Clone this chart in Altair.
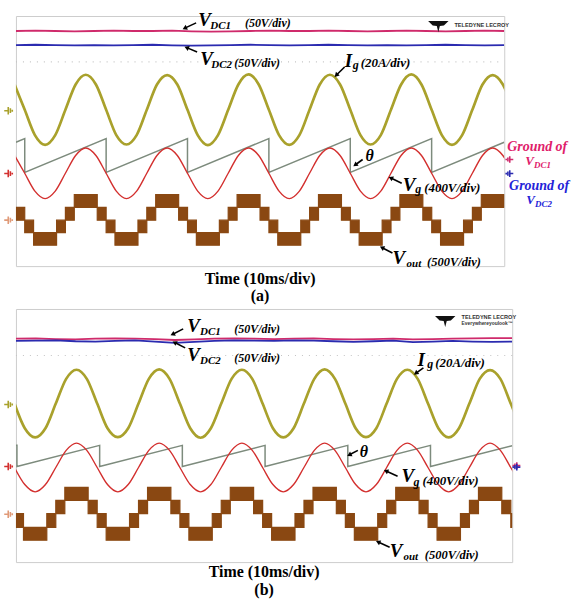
import math
import altair as alt
import pandas as pd

# Oscilloscope captures: horizontal 10 ms/div (10 divisions), vertical 8 divisions.
T_DOMAIN = [0, 100]
V_DOMAIN = [-4, 4]
GRID_T = list(range(0, 101, 10))
GRID_V = list(range(-4, 5))

SERIF = "Liberation Serif"
SANS = "Liberation Sans"
C_VDC1 = "#cf2a6b"
C_VDC2 = "#2b2bb0"
C_IG = "#a9a12c"
C_VG = "#d3302f"
C_THETA = "#7d8b7d"
C_VOUT = "#8a4812"
C_VOUT_GND = "#e09a78"
C_GRID = "#d9d9d9"
C_TXT_GND1 = "#e0206a"
C_TXT_GND2 = "#2323d8"

# ---------------------------------------------------------------- panel (a)
a_vdc_t = [0, 4, 8, 12, 16, 20, 24, 28, 32, 36, 40, 44, 48, 52, 56, 60, 64, 68,
           72, 76, 80, 84, 88, 92, 96, 100]
a_vdc1 = [3.52, 3.53, 3.52, 3.51, 3.52, 3.53, 3.52, 3.52, 3.53, 3.51, 3.50, 3.51,
          3.52, 3.53, 3.52, 3.52, 3.53, 3.52, 3.51, 3.52, 3.53, 3.52, 3.51, 3.52,
          3.53, 3.52]
a_vdc2 = [3.07, 3.08, 3.07, 3.06, 3.07, 3.06, 3.07, 3.08, 3.06, 3.05, 3.06, 3.07,
          3.08, 3.07, 3.06, 3.07, 3.08, 3.07, 3.06, 3.07, 3.06, 3.07, 3.08, 3.07,
          3.06, 3.07]

a_sine_t = [-0.28, 1.80, 3.88, 5.97, 8.05, 10.13, 12.22, 14.30,
            16.38, 18.47, 20.55, 22.63, 24.72, 26.80, 28.88, 30.97,
            33.05, 35.13, 37.22, 39.30, 41.38, 43.47, 45.55, 47.63,
            49.72, 51.80, 53.88, 55.97, 58.05, 60.13, 62.22, 64.30,
            66.38, 68.47, 70.55, 72.63, 74.72, 76.80, 78.88, 80.97,
            83.05, 85.13, 87.22, 89.30, 91.38, 93.47, 95.55, 97.63,
            99.72, 101.80]
a_ig = [1.81, 1.00, 0.19, -0.12, 0.19, 1.00, 1.81, 2.12,
        1.81, 1.00, 0.19, -0.11, 0.19, 1.00, 1.81, 2.11,
        1.81, 1.00, 0.19, -0.13, 0.19, 1.00, 1.81, 2.13,
        1.81, 1.00, 0.19, -0.12, 0.19, 1.00, 1.81, 2.12,
        1.81, 1.00, 0.19, -0.11, 0.19, 1.00, 1.81, 2.13,
        1.81, 1.00, 0.19, -0.12, 0.19, 1.00, 1.81, 2.11,
        1.81, 1.00]
a_vg = [-0.46, -1.03, -1.60, -1.84, -1.60, -1.03, -0.46, -0.22,
        -0.46, -1.03, -1.60, -1.84, -1.60, -1.03, -0.46, -0.22,
        -0.46, -1.03, -1.60, -1.84, -1.60, -1.03, -0.46, -0.22,
        -0.46, -1.03, -1.60, -1.84, -1.60, -1.03, -0.46, -0.22,
        -0.46, -1.03, -1.60, -1.84, -1.60, -1.03, -0.46, -0.22,
        -0.46, -1.03, -1.60, -1.84, -1.60, -1.03, -0.46, -0.22,
        -0.46, -1.03]
a_theta_t = [0, 1.80, 1.80, 18.47, 18.47, 35.13, 35.13, 51.80, 51.80,
             68.47, 68.47, 85.13, 85.13, 100]
a_theta = [-0.04, 0.08, -1.00, 0.08, -1.00, 0.08, -1.00, 0.08, -1.00,
           0.08, -1.00, 0.08, -1.00, -0.04]
# output levels -2E, -E, 0, +E, +2E (in divisions)
a_vout_levels = [-3.33, -2.93, -2.53, -2.12, -1.71]
a_vout_edges = [0, 1.80, 3.61, 8.32, 10.13, 11.95, 16.65, 18.47, 20.28, 24.99,
                26.80, 28.62, 33.32, 35.14, 36.95, 41.66, 43.47, 45.29, 49.99,
                51.81, 53.62, 58.33, 60.14, 61.96, 66.66, 68.48, 70.29, 75.00,
                76.81, 78.63, 83.33, 85.15, 86.96, 91.67, 93.48, 95.30, 100]
a_vout_low = [0, -1, -2, -1, 0, 1, 0, -1, -2, -1, 0, 1, 0, -1, -2, -1, 0, 1,
              0, -1, -2, -1, 0, 1, 0, -1, -2, -1, 0, 1, 0, -1, -2, -1, 0, 1]

# ---------------------------------------------------------------- panel (b)
b_vdc_t = a_vdc_t
b_vdc1 = [3.06, 3.07, 3.05, 3.04, 3.06, 3.07, 3.06, 3.05, 3.02, 3.04, 3.06, 3.07,
          3.06, 3.05, 3.06, 3.07, 3.05, 3.04, 3.05, 3.06, 3.04, 3.05, 3.06, 3.07,
          3.08, 3.08]
b_vdc2 = [2.99, 3.00, 3.01, 2.98, 2.97, 2.99, 3.01, 2.97, 2.93, 2.96, 2.99, 3.01,
          3.00, 2.99, 3.01, 3.00, 2.98, 2.96, 2.98, 3.00, 2.95, 2.97, 2.99, 2.97,
          2.96, 2.97]
b_sine_t = [-0.30, 1.78, 3.87, 5.95, 8.03, 10.12, 12.20, 14.28,
            16.37, 18.45, 20.53, 22.62, 24.70, 26.78, 28.87, 30.95,
            33.03, 35.12, 37.20, 39.28, 41.37, 43.45, 45.53, 47.62,
            49.70, 51.78, 53.87, 55.95, 58.03, 60.12, 62.20, 64.28,
            66.37, 68.45, 70.53, 72.62, 74.70, 76.78, 78.87, 80.95,
            83.03, 85.12, 87.20, 89.28, 91.37, 93.45, 95.53, 97.62,
            99.70, 101.78]
b_ig = [1.01, 0.23, -0.06, 0.23, 1.01, 1.79, 2.08, 1.79,
        1.01, 0.23, -0.05, 0.23, 1.01, 1.79, 2.09, 1.79,
        1.01, 0.23, -0.07, 0.23, 1.01, 1.79, 2.08, 1.79,
        1.01, 0.23, -0.06, 0.23, 1.01, 1.79, 2.09, 1.79,
        1.01, 0.23, -0.05, 0.23, 1.01, 1.79, 2.08, 1.79,
        1.01, 0.23, -0.06, 0.23, 1.01, 1.79, 2.07, 1.79,
        1.01, 0.23]
b_vg = [-1.01, -1.55, -1.78, -1.55, -1.01, -0.47, -0.24, -0.47,
        -1.01, -1.55, -1.78, -1.55, -1.01, -0.47, -0.24, -0.47,
        -1.01, -1.55, -1.78, -1.55, -1.01, -0.47, -0.24, -0.47,
        -1.01, -1.55, -1.78, -1.55, -1.01, -0.47, -0.24, -0.47,
        -1.01, -1.55, -1.78, -1.55, -1.01, -0.47, -0.24, -0.47,
        -1.01, -1.55, -1.78, -1.55, -1.01, -0.47, -0.24, -0.47,
        -1.01, -1.55]
b_theta_t = [0, 0.20, 0.20, 16.87, 16.87, 33.53, 33.53, 50.20, 50.20,
             66.87, 66.87, 83.53, 83.53, 100]
b_theta = [-0.31, -0.31, -0.98, -0.31, -0.98, -0.31, -0.98, -0.31, -0.98,
           -0.31, -0.98, -0.31, -0.98, -0.32]
b_vout_levels = [-3.31, -2.90, -2.47, -2.05, -1.64]
b_vout_edges = [0, 1.52, 6.22, 8.03, 9.85, 14.55, 16.37, 18.18, 22.89, 24.70,
                26.52, 31.22, 33.04, 34.85, 39.56, 41.37, 43.19, 47.89, 49.71,
                51.52, 56.23, 58.04, 59.86, 64.56, 66.38, 68.19, 72.90, 74.71,
                76.53, 81.23, 83.05, 84.86, 89.57, 91.38, 93.20, 97.90, 99.72, 100]
b_vout_low = [-1, -2, -1, 0, 1, 0, -1, -2, -1, 0, 1, 0, -1, -2, -1, 0, 1, 0,
              -1, -2, -1, 0, 1, 0, -1, -2, -1, 0, 1, 0, -1, -2, -1, 0, 1, 0, -1]

# ------------------------------------------------------------ annotations
# (t, v, text, size, colour) -- bold italic serif labels
a_labels = [
    (37.35, 3.68, "V", 19, "black"), (39.8, 3.58, "DC1", 11, "black"),
    (46.9, 3.65, "(50V/div)", 12, "black"),
    (37.76, 2.44, "V", 19, "black"), (40.0, 2.34, "DC2", 11, "black"),
    (44.7, 2.37, "(50V/div)", 12, "black"),
    (67.35, 2.37, "I", 19, "black"), (69.0, 2.32, "g", 12, "black"),
    (70.6, 2.37, "(20A/div)", 13, "black"),
    (71.6, -0.65, "θ", 16, "black"),
    (79.2, -1.61, "V", 19, "black"), (81.8, -1.67, "g", 12, "black"),
    (83.6, -1.64, "(400V/div)", 13, "black"),
    (77.1, -3.93, "V", 19, "black"), (80.0, -4.03, "out", 11, "black"),
    (84.2, -4.00, "(500V/div)", 12.5, "black"),
    (100.6, -0.33, "Ground of", 14, C_TXT_GND1),
    (104.3, -0.78, "V", 13, C_TXT_GND1), (106.1, -0.87, "DC1", 9, C_TXT_GND1),
    (101.0, -1.55, "Ground of", 14, C_TXT_GND2),
    (104.5, -2.02, "V", 13, C_TXT_GND2), (106.3, -2.11, "DC2", 9, C_TXT_GND2),
]
b_labels = [
    (34.5, 3.28, "V", 19, "black"), (37.1, 3.18, "DC1", 11, "black"),
    (44.0, 3.24, "(50V/div)", 12, "black"),
    (34.5, 2.36, "V", 19, "black"), (37.1, 2.27, "DC2", 11, "black"),
    (44.0, 2.33, "(50V/div)", 12, "black"),
    (80.9, 2.20, "I", 19, "black"), (82.9, 2.14, "g", 12, "black"),
    (84.5, 2.17, "(20A/div)", 13, "black"),
    (69.3, -0.69, "θ", 16, "black"),
    (77.7, -1.48, "V", 19, "black"), (80.1, -1.61, "g", 12, "black"),
    (81.9, -1.57, "(400V/div)", 13, "black"),
    (75.3, -3.84, "V", 19, "black"), (78.1, -3.94, "out", 11, "black"),
    (82.4, -3.91, "(500V/div)", 12.5, "black"),
]
# (tail t, tail v, head t, head v)
a_arrows = [(36.9, 3.78, 34.7, 3.62), (37.1, 2.85, 35.1, 2.98),
            (67.3, 2.37, 65.7, 2.12), (71.0, -0.59, 69.6, -0.75),
            (79.0, -1.35, 76.9, -1.19), (77.1, -3.58, 75.1, -3.42)]
b_arrows = [(33.7, 3.37, 31.7, 3.21), (34.1, 2.77, 32.1, 2.93),
            (82.1, 2.14, 80.7, 1.98), (68.9, -0.47, 67.3, -0.60),
            (76.9, -1.29, 74.7, -1.13), (75.3, -3.53, 73.1, -3.37)]
# channel ground markers: (t, v, colour)
a_gnd_left = [(-1.43, 0.97, C_IG), (-1.43, -1.04, C_VG), (-1.43, -2.53, C_VOUT_GND)]
a_gnd_right = [(101.0, -0.59, C_VDC1), (101.0, -1.04, C_VDC2)]
b_gnd_left = [(-1.41, 0.98, C_IG), (-1.41, -0.98, C_VG), (-1.41, -2.49, C_VOUT_GND)]
b_gnd_right = [(100.8, -0.95, C_VDC1), (100.8, -1.00, C_VDC2)]

GND_RIGHT = "M-1,0 L-0.15,0 M-0.15,-0.8 L-0.15,0.8 M0.3,-0.5 L0.3,0.5 M0.7,-0.2 L0.7,0.2"
GND_LEFT = "M1,0 L0.15,0 M0.15,-0.8 L0.15,0.8 M-0.3,-0.5 L-0.3,0.5 M-0.7,-0.2 L-0.7,0.2"
LOGO = "M-1,-0.5 L1,-0.5 L0.55,-0.05 L0.15,0 L0,0.6 L-0.15,0 L-0.55,-0.05 Z"

XS = alt.Scale(domain=T_DOMAIN, nice=False, zero=False)
YS = alt.Scale(domain=V_DOMAIN, nice=False, zero=False)


def xq(field, grid=False):
    if grid:
        return alt.X(field, type="quantitative", scale=XS,
                     axis=alt.Axis(values=GRID_T, grid=True, labels=False, ticks=False,
                                   domain=False, title=None, gridColor=C_GRID))
    return alt.X(field, type="quantitative", scale=XS, axis=None)


def yq(field, grid=False):
    if grid:
        return alt.Y(field, type="quantitative", scale=YS,
                     axis=alt.Axis(values=GRID_V, grid=True, labels=False, ticks=False,
                                   domain=False, title=None, gridColor=C_GRID))
    return alt.Y(field, type="quantitative", scale=YS, axis=None)


def panel(vdc_t, vdc1, vdc2, sine_t, ig, vg, th_t, th, levels, edges, lows,
          labels, arrows, gnd_left, gnd_right, tag, width, height, logo_sub, bounds_box):
    pxx = width / 100.0
    pxy = height / 8.0
    layers = []

    if bounds_box is not None:
        x0, x1, y0, y1 = bounds_box
        layers.append(alt.Chart(pd.DataFrame({"a": [x0], "b": [x1], "c": [y0], "d": [y1]}))
                      .mark_rect(opacity=0)
                      .encode(x=xq("a"), x2="b", y=yq("c"), y2="d"))

    # dotted reference row of the graticule
    layers.append(alt.Chart(pd.DataFrame({"t": [0], "t2": [100], "v": [2.53]}))
                  .mark_rule(color="#c4c4c4", strokeDash=[1, 6], strokeWidth=1.2)
                  .encode(x=xq("t", grid=True), x2="t2", y=yq("v", grid=True)))

    vdc = pd.DataFrame({"t": vdc_t, "v1": vdc1, "v2": vdc2})
    layers.append(alt.Chart(vdc).mark_line(color=C_VDC1, strokeWidth=1.8, clip=True)
                  .encode(x=xq("t"), y=yq("v1")))
    layers.append(alt.Chart(vdc).mark_line(color=C_VDC2, strokeWidth=1.8, clip=True)
                  .encode(x=xq("t"), y=yq("v2")))

    # output voltage: PWM bands between adjacent levels
    rows = []
    for i, lo in enumerate(lows):
        rows.append({"t1": edges[i], "t2": edges[i + 1],
                     "y1": levels[lo + 2], "y2": levels[lo + 3]})
    layers.append(alt.Chart(pd.DataFrame(rows))
                  .mark_rect(color=C_VOUT, stroke=C_VOUT, strokeWidth=1.2, clip=True)
                  .encode(x=xq("t1"), x2="t2", y=yq("y1"), y2="y2"))

    theta = pd.DataFrame({"t": th_t, "v": th, "i": list(range(len(th_t)))})
    layers.append(alt.Chart(theta).mark_line(color=C_THETA, strokeWidth=1.5, clip=True)
                  .encode(x=xq("t"), y=yq("v"), order=alt.Order("i:Q")))

    sines = pd.DataFrame({"t": sine_t, "ig": ig, "vg": vg})
    layers.append(alt.Chart(sines).mark_line(color=C_VG, strokeWidth=1.4, clip=True,
                                              interpolate="monotone")
                  .encode(x=xq("t"), y=yq("vg")))
    layers.append(alt.Chart(sines).mark_line(color=C_IG, strokeWidth=2.7, clip=True,
                                              interpolate="monotone")
                  .encode(x=xq("t"), y=yq("ig")))

    # ground markers
    gl = pd.DataFrame(gnd_left, columns=["t", "v", "c"])
    layers.append(alt.Chart(gl).mark_point(shape=GND_RIGHT, filled=False, size=90,
                                           strokeWidth=1.6, opacity=1)
                  .encode(x=xq("t"), y=yq("v"), color=alt.Color("c:N", scale=None)))
    gr = pd.DataFrame(gnd_right, columns=["t", "v", "c"])
    layers.append(alt.Chart(gr).mark_point(shape=GND_LEFT, filled=False, size=70,
                                           strokeWidth=1.6, opacity=1)
                  .encode(x=xq("t"), y=yq("v"), color=alt.Color("c:N", scale=None)))

    # arrows
    arr = pd.DataFrame(arrows, columns=["t0", "v0", "t1", "v1"])
    arr["ang"] = [
        math.degrees(math.atan2((r.t1 - r.t0) * pxx, (r.v1 - r.v0) * pxy)) % 360
        for r in arr.itertuples()
    ]
    layers.append(alt.Chart(arr).mark_rule(color="black", strokeWidth=1.6)
                  .encode(x=xq("t0"), y=yq("v0"), x2="t1", y2="v1"))
    layers.append(alt.Chart(arr).mark_point(shape="triangle", filled=True, size=28,
                                            color="black", opacity=1)
                  .encode(x=xq("t1"), y=yq("v1"), angle=alt.Angle("ang:Q", scale=None)))

    # labels
    lab = pd.DataFrame(labels, columns=["t", "v", "txt", "size", "c"])
    layers.append(alt.Chart(lab).mark_text(font=SERIF, fontWeight="bold", fontStyle="italic",
                                           align="left", baseline="alphabetic")
                  .encode(x=xq("t"), y=yq("v"), text="txt:N",
                          size=alt.Size("size:Q", scale=None, legend=None),
                          color=alt.Color("c:N", scale=None)))

    # instrument logo
    layers.append(alt.Chart(pd.DataFrame({"t": [86.5], "v": [3.68 if not logo_sub else 3.62]}))
                  .mark_point(shape=LOGO, filled=True, size=420, color="#111111", opacity=1)
                  .encode(x=xq("t"), y=yq("v")))
    logo_rows = [(89.8, 3.70 if not logo_sub else 3.74, "TELEDYNE LECROY", 5.6)]
    if logo_sub:
        logo_rows.append((89.8, 3.54, "Everywhereyoulook\u2122", 4.9))
    layers.append(alt.Chart(pd.DataFrame(logo_rows, columns=["t", "v", "txt", "size"]))
                  .mark_text(font=SANS, fontWeight="bold", align="left", baseline="middle",
                             color="#333333")
                  .encode(x=xq("t"), y=yq("v"), text="txt:N",
                          size=alt.Size("size:Q", scale=None, legend=None)))

    # captions below the screen
    cap = pd.DataFrame({"t": [50, 50], "v": tag[0], "txt": ["Time (10ms/div)", tag[1]]})
    layers.append(alt.Chart(cap).mark_text(font=SERIF, fontWeight="bold", fontSize=16,
                                           align="center", baseline="alphabetic",
                                           color="black")
                  .encode(x=xq("t"), y=yq("v"), text="txt:N"))

    return alt.layer(*layers).properties(width=width, height=height)


panel_a = panel(a_vdc_t, a_vdc1, a_vdc2, a_sine_t, a_ig, a_vg, a_theta_t, a_theta,
                a_vout_levels, a_vout_edges, a_vout_low, a_labels, a_arrows,
                a_gnd_left, a_gnd_right, ([-4.57, -5.11], "(a)"), 490, 251, False,
                (-3.06, 113.9, 4.444, -14.70))
panel_b = panel(b_vdc_t, b_vdc1, b_vdc2, b_sine_t, b_ig, b_vg, b_theta_t, b_theta,
                b_vout_levels, b_vout_edges, b_vout_low, b_labels, b_arrows,
                b_gnd_left, b_gnd_right, ([-4.47, -5.04], "(b)"), 498, 254, True, None)

chart = (
    alt.vconcat(panel_a, panel_b, spacing=43, bounds="flush")
    .properties(padding=0, autosize=alt.AutoSizeParams(type="pad"))
    .configure_view(stroke="#cdcdcd", strokeWidth=1)
    .configure_axis(gridColor=C_GRID, gridWidth=1)
)

chart.save("out.html", embed_options={"renderer": "svg", "actions": False})
